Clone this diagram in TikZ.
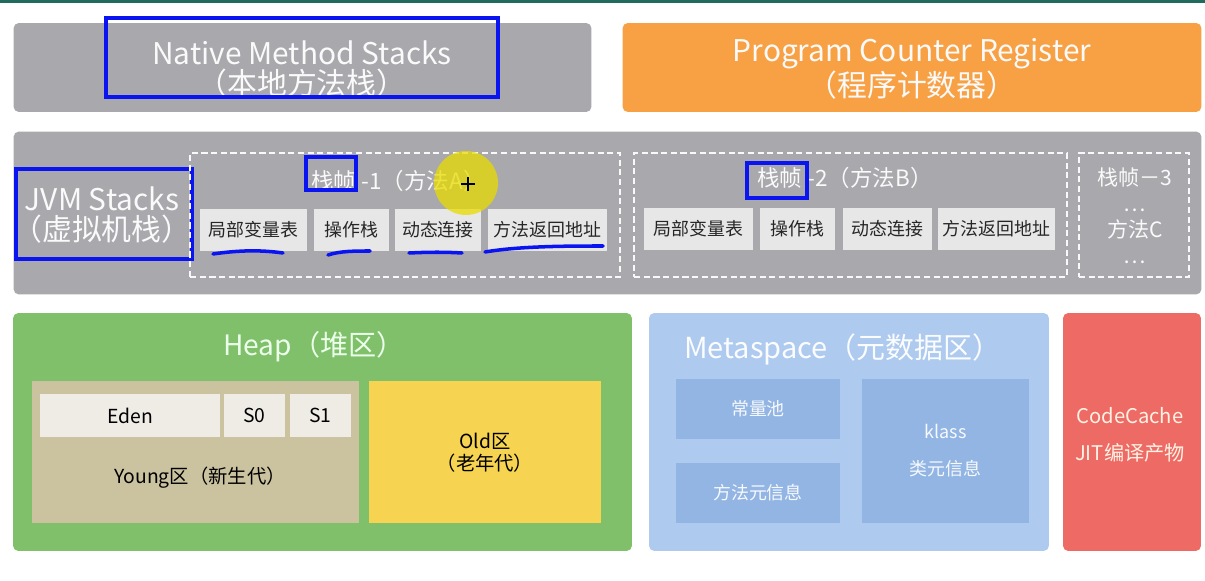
\documentclass[tikz,border=0pt]{standalone}
\usepackage{fontspec}
\setmainfont{Noto Sans CJK SC}
\usepackage{tikz}
\usetikzlibrary{positioning}
\definecolor{TopTeal}{HTML}{1F6B5E}
\definecolor{StackGray}{HTML}{A8A8AD}
\definecolor{CellGray}{HTML}{E7E7E8}
\definecolor{PcOrange}{HTML}{F8A144}
\definecolor{HeapGreen}{HTML}{80C06B}
\definecolor{YoungTan}{HTML}{CBC39F}
\definecolor{EdenWhite}{HTML}{EEECE4}
\definecolor{OldYellow}{HTML}{F6D452}
\definecolor{MetaBlue}{HTML}{AECAEE}
\definecolor{MetaInner}{HTML}{93B5E3}
\definecolor{CacheRed}{HTML}{EE6A64}
\definecolor{AnnoBlue}{HTML}{0A14F0}

\begin{document}
\begin{tikzpicture}[
    x=0.02cm,
    y=-0.02cm,
    areabox/.style={
        rounded corners=3pt,
        inner sep=0pt,
        outer sep=0pt
    },
    cellbox/.style={
        fill=CellGray,
        inner sep=0pt,
        outer sep=0pt,
        minimum height=0.86cm,
        text=black!85,
        font=\fontsize{10.2}{12}\selectfont
    },
    framebox/.style={
        draw=white!95!gray,
        line width=0.8pt,
        dash pattern=on 3.5pt off 2pt,
        inner sep=0pt,
        minimum height=2.48cm
    },
    frametitle/.style={
        anchor=west,
        inner sep=0pt,
        text=white!96!gray,
        font=\fontsize{12.8}{15}\selectfont
    },
    annobox/.style={
        draw=AnnoBlue,
        line width=2.2pt,
        inner sep=0pt
    },
    uline/.style={
        AnnoBlue,
        line width=2pt,
        line cap=round
    },
    bigtext/.style={
        text=white!96!gray,
        align=center,
        font=\fontsize{17}{17}\selectfont
    }
]

\useasboundingbox (0,0) rectangle (1205,581);
\fill[white] (0,0) rectangle (1205,581);
\fill[TopTeal] (0,0) rectangle (1205,3);

% =====================================================
% NATIVE METHOD STACKS / PROGRAM COUNTER
% =====================================================
\node[
    areabox,
    fill=StackGray,
    minimum width=11.56cm,
    minimum height=1.78cm
]
(native) at (302.5,67.5) {};

\begin{scope}
\clip (106,18) rectangle (498,97);
\node[bigtext] (nativetxt) at (302,69)
{Native Method Stacks\\（本地方法栈）};
\end{scope}

\node[annobox, minimum width=7.84cm, minimum height=1.58cm]
(nativemark) at (302,57.5) {};

\node[
    areabox,
    fill=PcOrange,
    minimum width=11.58cm,
    minimum height=1.78cm
]
(pc) at (912,67.5) {};

\node[bigtext] (pctxt) at (912,69)
{Program Counter Register\\（程序计数器）};

% =====================================================
% JVM STACKS
% =====================================================
\node[
    areabox,
    fill=StackGray,
    minimum width=23.76cm,
    minimum height=3.26cm
]
(jvm) at (607.5,213) {};

\node[bigtext] (jvmtxt) at (102,215)
{JVM Stacks\\（虚拟机栈）};

\node[annobox, minimum width=3.52cm, minimum height=1.8cm]
(jvmmark) at (104,214) {};

% frames
\node[framebox, minimum width=8.6cm] (frame1) at (405,215) {};
\node[framebox, minimum width=8.66cm] (frame2) at (850.5,215) {};
\node[framebox, minimum width=2.2cm] (frame3) at (1134,215) {};

\node[frametitle] (frame1txt) at (311,181) {栈帧\kern3pt-1（方法A）};
\node[frametitle] (frame2txt) at (757,178) {栈帧\kern3pt-2（方法B）};
\node[text=white!96!gray, align=center, font=\fontsize{12}{14.7}\selectfont]
(frame3txt) at (1135,216) {栈帧－3\\…\\方法C\\…};

% cells of frame 1
\node[cellbox, minimum width=2.14cm] (c11) at (253.5,230) {局部变量表};
\node[cellbox, minimum width=1.5cm, right=0.14cm of c11] (c12) {操作栈};
\node[cellbox, minimum width=1.72cm, right=0.12cm of c12] (c13) {动态连接};
\node[cellbox, minimum width=2.38cm, right=0.14cm of c13] (c14) {方法返回地址};

% cells of frame 2
\node[cellbox, minimum width=2.18cm] (c21) at (698.5,229) {局部变量表};
\node[cellbox, minimum width=1.5cm, right=0.14cm of c21] (c22) {操作栈};
\node[cellbox, minimum width=1.78cm, right=0.16cm of c22] (c23) {动态连接};
\node[cellbox, minimum width=2.34cm, right=0.12cm of c23] (c24) {方法返回地址};

% marks
\node[annobox, minimum width=1.0cm, minimum height=0.66cm]
(f1mark) at (331,173.5) {};
\node[annobox, minimum width=1.2cm, minimum height=0.7cm]
(f2mark) at (777,180.5) {};

\draw[uline] (213,254) .. controls (240,250) and (262,250) .. (283,253);
\draw[uline] (328,255) .. controls (340,251) and (355,251) .. (370,251);
\draw[uline] (409,253) .. controls (430,252) and (445,252) .. (462,253);
\draw[uline] (485,252) .. controls (520,246) and (570,246) .. (603,246);

% cursor highlight
\fill[yellow!80!olive, opacity=0.75] (466,183) circle[radius=0.64cm];
\draw[black, line width=1.3pt] (461,184) -- (475,184) (468,177) -- (468,191);

% =====================================================
% HEAP
% =====================================================
\node[
    areabox,
    fill=HeapGreen,
    minimum width=12.38cm,
    minimum height=4.76cm
]
(heap) at (322.5,432) {};

\node[text=green!8!white, font=\fontsize{16}{18}\selectfont]
(heaptxt) at (314,347) {Heap（堆区）};

\node[fill=YoungTan, inner sep=0pt, minimum width=6.54cm, minimum height=2.86cm]
(young) at (195.5,452) {};
\node[fill=OldYellow, inner sep=0pt, minimum width=4.64cm, minimum height=2.86cm]
(old) at (485,452) {};

\node[fill=EdenWhite, inner sep=0pt, minimum width=3.6cm, minimum height=0.86cm,
    font=\fontsize{11}{13}\selectfont]
(eden) at (130,415.5) {Eden};
\node[fill=EdenWhite, inner sep=0pt, minimum width=1.22cm, minimum height=0.86cm,
    font=\fontsize{11}{13}\selectfont]
(szero) at (254.5,415.5) {S0};
\node[fill=EdenWhite, inner sep=0pt, minimum width=1.22cm, minimum height=0.86cm,
    font=\fontsize{11}{13}\selectfont]
(sone) at (320.5,415.5) {S1};

\node[font=\fontsize{11}{13}\selectfont]
(youngtxt) at (200,478) {Young区（新生代）};
\node[align=center, font=\fontsize{11}{12.5}\selectfont]
(oldtxt) at (485,453) {Old区\\（老年代）};

% =====================================================
% METASPACE
% =====================================================
\node[
    areabox,
    fill=MetaBlue,
    minimum width=8.0cm,
    minimum height=4.76cm
]
(meta) at (649,313) [anchor=north west] {};

\node[anchor=west, text=white!95!MetaBlue, font=\fontsize{16.5}{19}\selectfont]
(metatxt) at (678,349) {Metaspace（元数据区）};

\node[fill=MetaInner, inner sep=0pt, minimum width=3.28cm, minimum height=1.2cm,
    text=white!92!MetaInner, font=\fontsize{10.2}{12}\selectfont]
(pool) at (758,409) {常量池};
\node[fill=MetaInner, inner sep=0pt, minimum width=3.28cm, minimum height=1.2cm,
    text=white!92!MetaInner, font=\fontsize{10.2}{12}\selectfont]
(methodinfo) at (758,493) {方法元信息};
\node[fill=MetaInner, inner sep=0pt, minimum width=3.34cm, minimum height=2.88cm,
    text=white!92!MetaInner, align=center, font=\fontsize{10.2}{21}\selectfont]
(klass) at (945.5,451) {klass\\类元信息};

% =====================================================
% CODE CACHE
% =====================================================
\node[
    areabox,
    fill=CacheRed,
    minimum width=2.76cm,
    minimum height=4.76cm
]
(cache) at (1132,432) {};

\node[text=white!90!orange, align=center, font=\fontsize{11.5}{21}\selectfont]
(cachetxt) at (1130,435) {CodeCache\\JIT编译产物};

\end{tikzpicture}
\end{document}
